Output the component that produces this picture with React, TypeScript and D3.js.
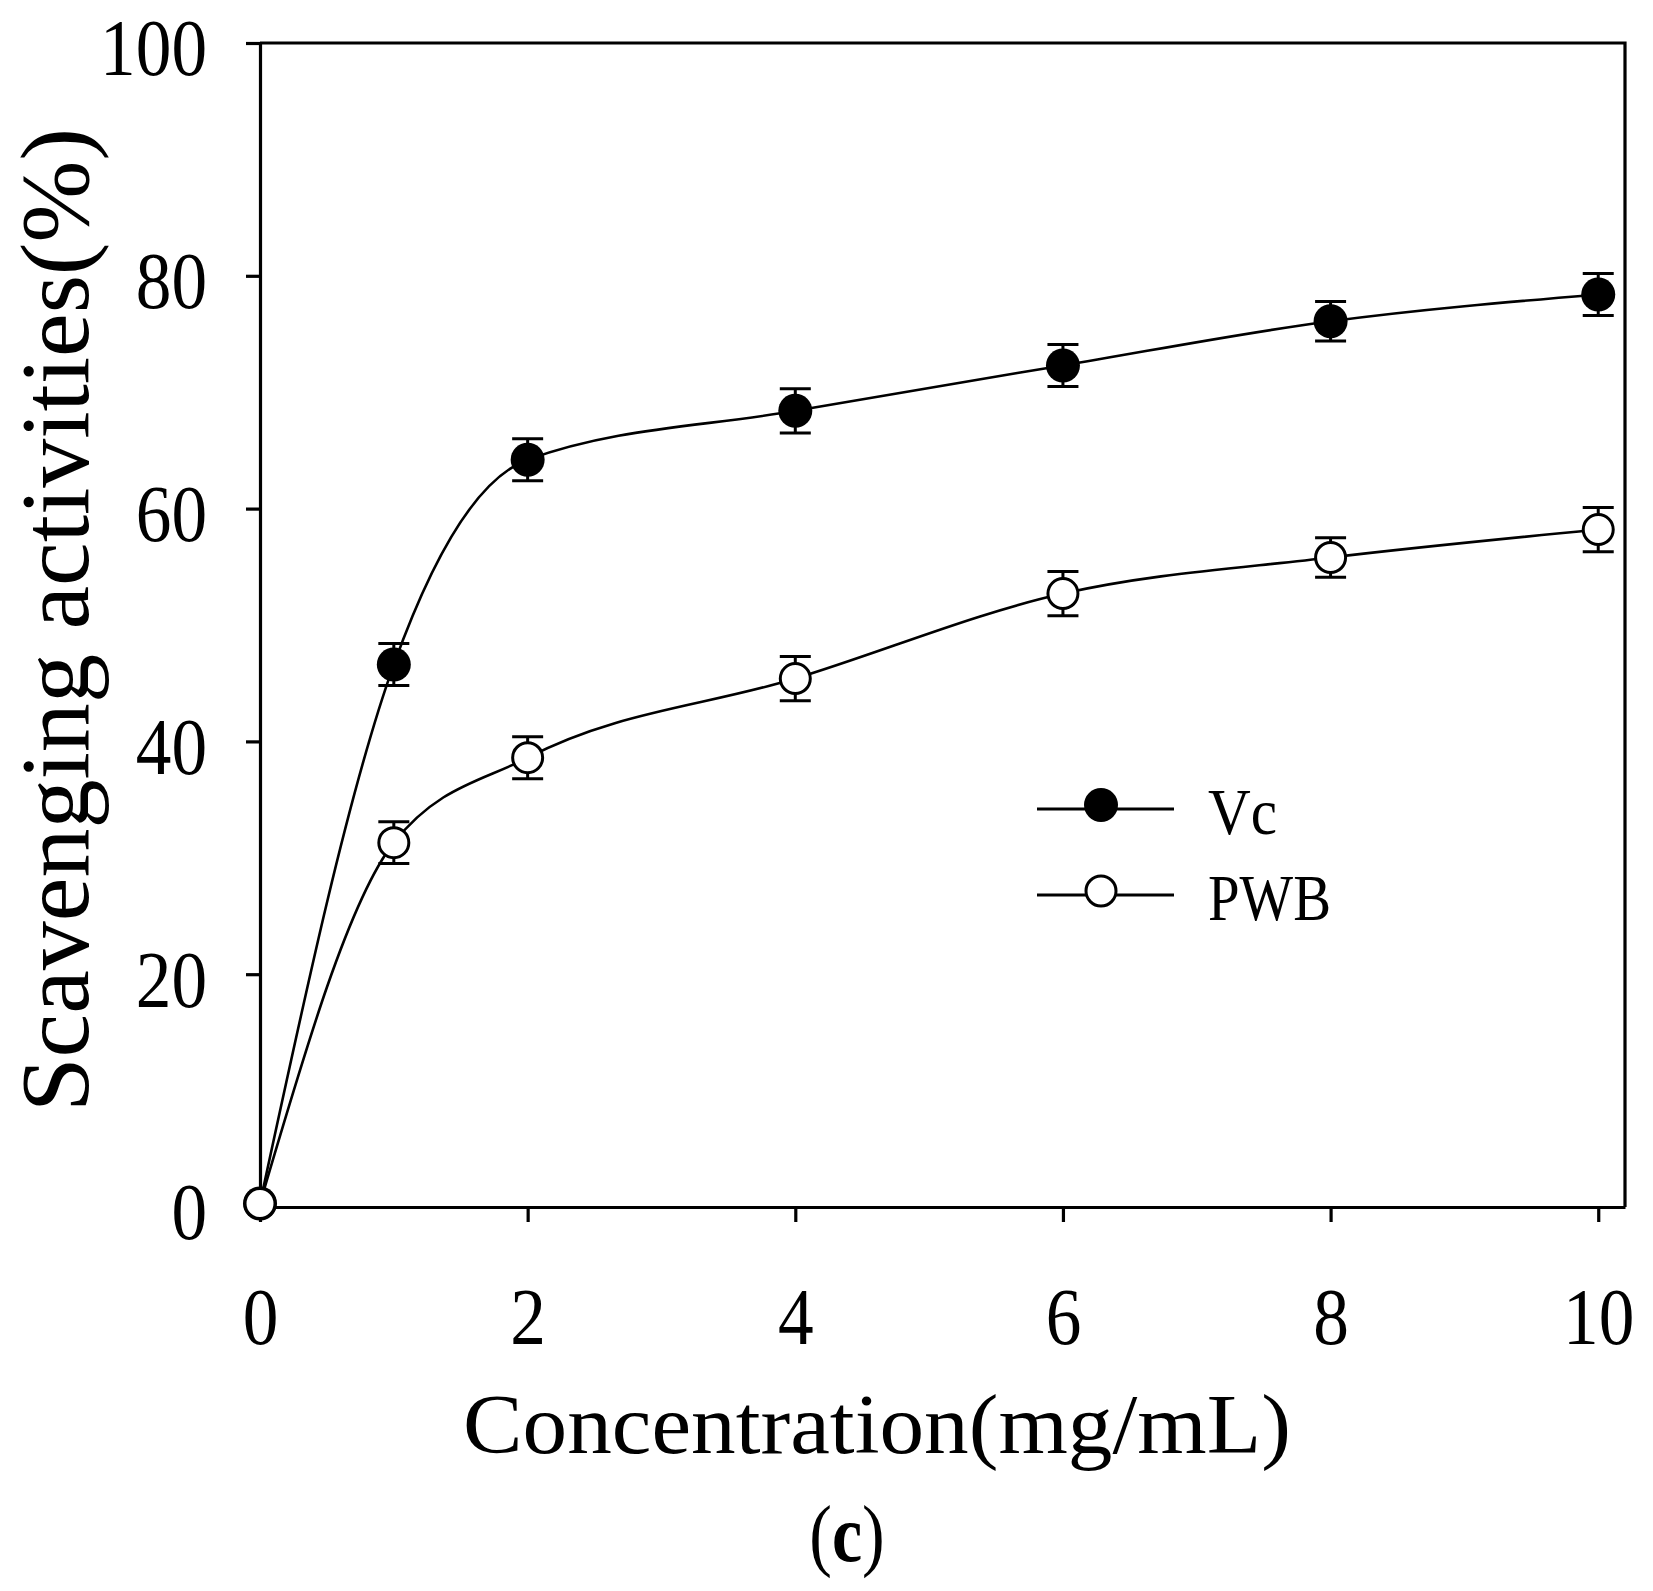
import { useEffect, useRef } from "react";
import * as d3 from "d3";

// concentration (mg/mL)
const concentrations = [0, 1, 2, 4, 6, 8, 10];
// scavenging activity (%)
const vcValues = [0.3, 46.6, 64.2, 68.4, 72.3, 76.1, 78.4];
const vcErrors = [0, 1.8, 1.8, 1.9, 1.8, 1.7, 1.8];
const pwbValues = [0.3, 31.3, 38.6, 45.4, 52.7, 55.8, 58.2];
const pwbErrors = [0, 1.8, 1.8, 1.9, 1.9, 1.7, 1.9];
const xTicks = [0, 2, 4, 6, 8, 10];
const yTicks = [0, 20, 40, 60, 80, 100];

const FONT = "'Liberation Serif', 'Times New Roman', serif";

const ScavengingChart = ({ width = 1653, height = 1591 }) => {
  const svgRef = useRef<SVGSVGElement | null>(null);

  useEffect(() => {
    if (!svgRef.current) return;

    const svg = d3.select(svgRef.current);
    svg.selectAll("*").remove();

    const left = 260;
    const right = 1625;
    const top = 43;
    const bottom = 1207;
    const squeeze = 0.88;

    svg.attr("width", width).attr("height", height);

    const x = d3.scaleLinear().domain([0, 10.2]).range([left, right]);
    const y = d3.scaleLinear().domain([0, 100]).range([bottom, top]);

    // frame (top + right)
    svg.append("path")
      .attr("d", `M${left},${top}H${right}V${bottom}`)
      .attr("fill", "none")
      .attr("stroke", "#000")
      .attr("stroke-width", 3.2);

    // Y axis
    const yAxis = svg.append("g")
      .attr("transform", `translate(${left},0)`)
      .call(d3.axisLeft(y).tickValues(yTicks).tickSize(14).tickPadding(39).tickSizeOuter(0));
    yAxis.select(".domain").attr("stroke-width", 3.2);
    yAxis.selectAll(".tick line").attr("stroke-width", 3.2);
    yAxis.selectAll("text")
      .attr("font-family", FONT)
      .attr("font-size", 81)
      .attr("fill", "#000")
      .attr("dy", "0.395em")
      .attr("x", -53 / squeeze)
      .attr("transform", `scale(${squeeze},1)`);

    // X axis
    const xAxis = svg.append("g")
      .attr("transform", `translate(0,${bottom})`)
      .call(d3.axisBottom(x).tickValues(xTicks).tickSize(15).tickPadding(64).tickSizeOuter(0));
    xAxis.select(".domain").attr("stroke-width", 3.2);
    xAxis.selectAll(".tick line").attr("stroke-width", 3.2);
    xAxis.selectAll("text")
      .attr("font-family", FONT)
      .attr("font-size", 81)
      .attr("fill", "#000")
      .attr("transform", `scale(${squeeze},1)`);

    // axis titles
    svg.append("text")
      .attr("x", 463)
      .attr("y", 1453)
      .attr("font-family", FONT)
      .attr("font-size", 85)
      .attr("textLength", 828)
      .attr("lengthAdjust", "spacingAndGlyphs")
      .text("Concentration(mg/mL)");

    svg.append("text")
      .attr("transform", `translate(88,1112) rotate(-90)`)
      .attr("font-family", FONT)
      .attr("font-size", 97)
      .attr("textLength", 984)
      .attr("lengthAdjust", "spacingAndGlyphs")
      .text("Scavenging activities(%)");

    // panel label
    const panel = svg.append("text")
      .attr("transform", "translate(847,1561) scale(0.85,1)")
      .attr("text-anchor", "middle")
      .attr("font-family", FONT)
      .attr("font-size", 80);
    panel.append("tspan").text("(");
    panel.append("tspan").attr("font-weight", "bold").text("c");
    panel.append("tspan").text(")");

    // series
    const series = [
      { name: "Vc", values: vcValues, errors: vcErrors, filled: true },
      { name: "PWB", values: pwbValues, errors: pwbErrors, filled: false },
    ];

    const line = d3.line<number>()
      .x((_, i) => x(concentrations[i]))
      .y(d => y(d))
      .curve(d3.curveMonotoneX);

    series.forEach(s => {
      svg.append("path")
        .datum(s.values)
        .attr("d", line)
        .attr("fill", "none")
        .attr("stroke", "#000")
        .attr("stroke-width", 2.6);
    });

    series.forEach(s => {
      const g = svg.append("g");
      const pts = s.values.map((v, i) => ({ c: concentrations[i], v, e: s.errors[i] }));

      // error bars
      pts.filter(p => p.e > 0).forEach(p => {
        const cx = x(p.c);
        const y0 = y(p.v - p.e);
        const y1 = y(p.v + p.e);
        g.append("path")
          .attr("d", `M${cx},${y0}V${y1}M${cx - 15.5},${y0}H${cx + 15.5}M${cx - 15.5},${y1}H${cx + 15.5}`)
          .attr("fill", "none")
          .attr("stroke", "#000")
          .attr("stroke-width", 3);
      });

      g.selectAll("circle")
        .data(pts)
        .join("circle")
        .attr("cx", d => x(d.c))
        .attr("cy", d => y(d.v))
        .attr("r", s.filled ? 17 : 15)
        .attr("fill", s.filled ? "#000" : "#fff")
        .attr("stroke", "#000")
        .attr("stroke-width", s.filled ? 0 : 3);
    });

    // legend
    const legendY = [809, 895];
    series.forEach((s, i) => {
      const ly = legendY[i];
      svg.append("line")
        .attr("x1", 1037)
        .attr("x2", 1174)
        .attr("y1", ly)
        .attr("y2", ly)
        .attr("stroke", "#000")
        .attr("stroke-width", 3);
      svg.append("circle")
        .attr("cx", 1101)
        .attr("cy", ly - 4)
        .attr("r", s.filled ? 17 : 15)
        .attr("fill", s.filled ? "#000" : "#fff")
        .attr("stroke", "#000")
        .attr("stroke-width", s.filled ? 0 : 3);
      svg.append("text")
        .attr("x", 1208)
        .attr("y", ly + 25)
        .attr("font-family", FONT)
        .attr("font-size", 65)
        .attr("textLength", s.name === "Vc" ? 69 : 123)
        .attr("lengthAdjust", "spacingAndGlyphs")
        .text(s.name);
    });
  }, [width, height]);

  return (
    <svg
      ref={svgRef}
      style={{ position: "absolute", left: 0, top: 0, background: "#fff" }}
    />
  );
};

export default function App() {
  return <ScavengingChart />;
}
